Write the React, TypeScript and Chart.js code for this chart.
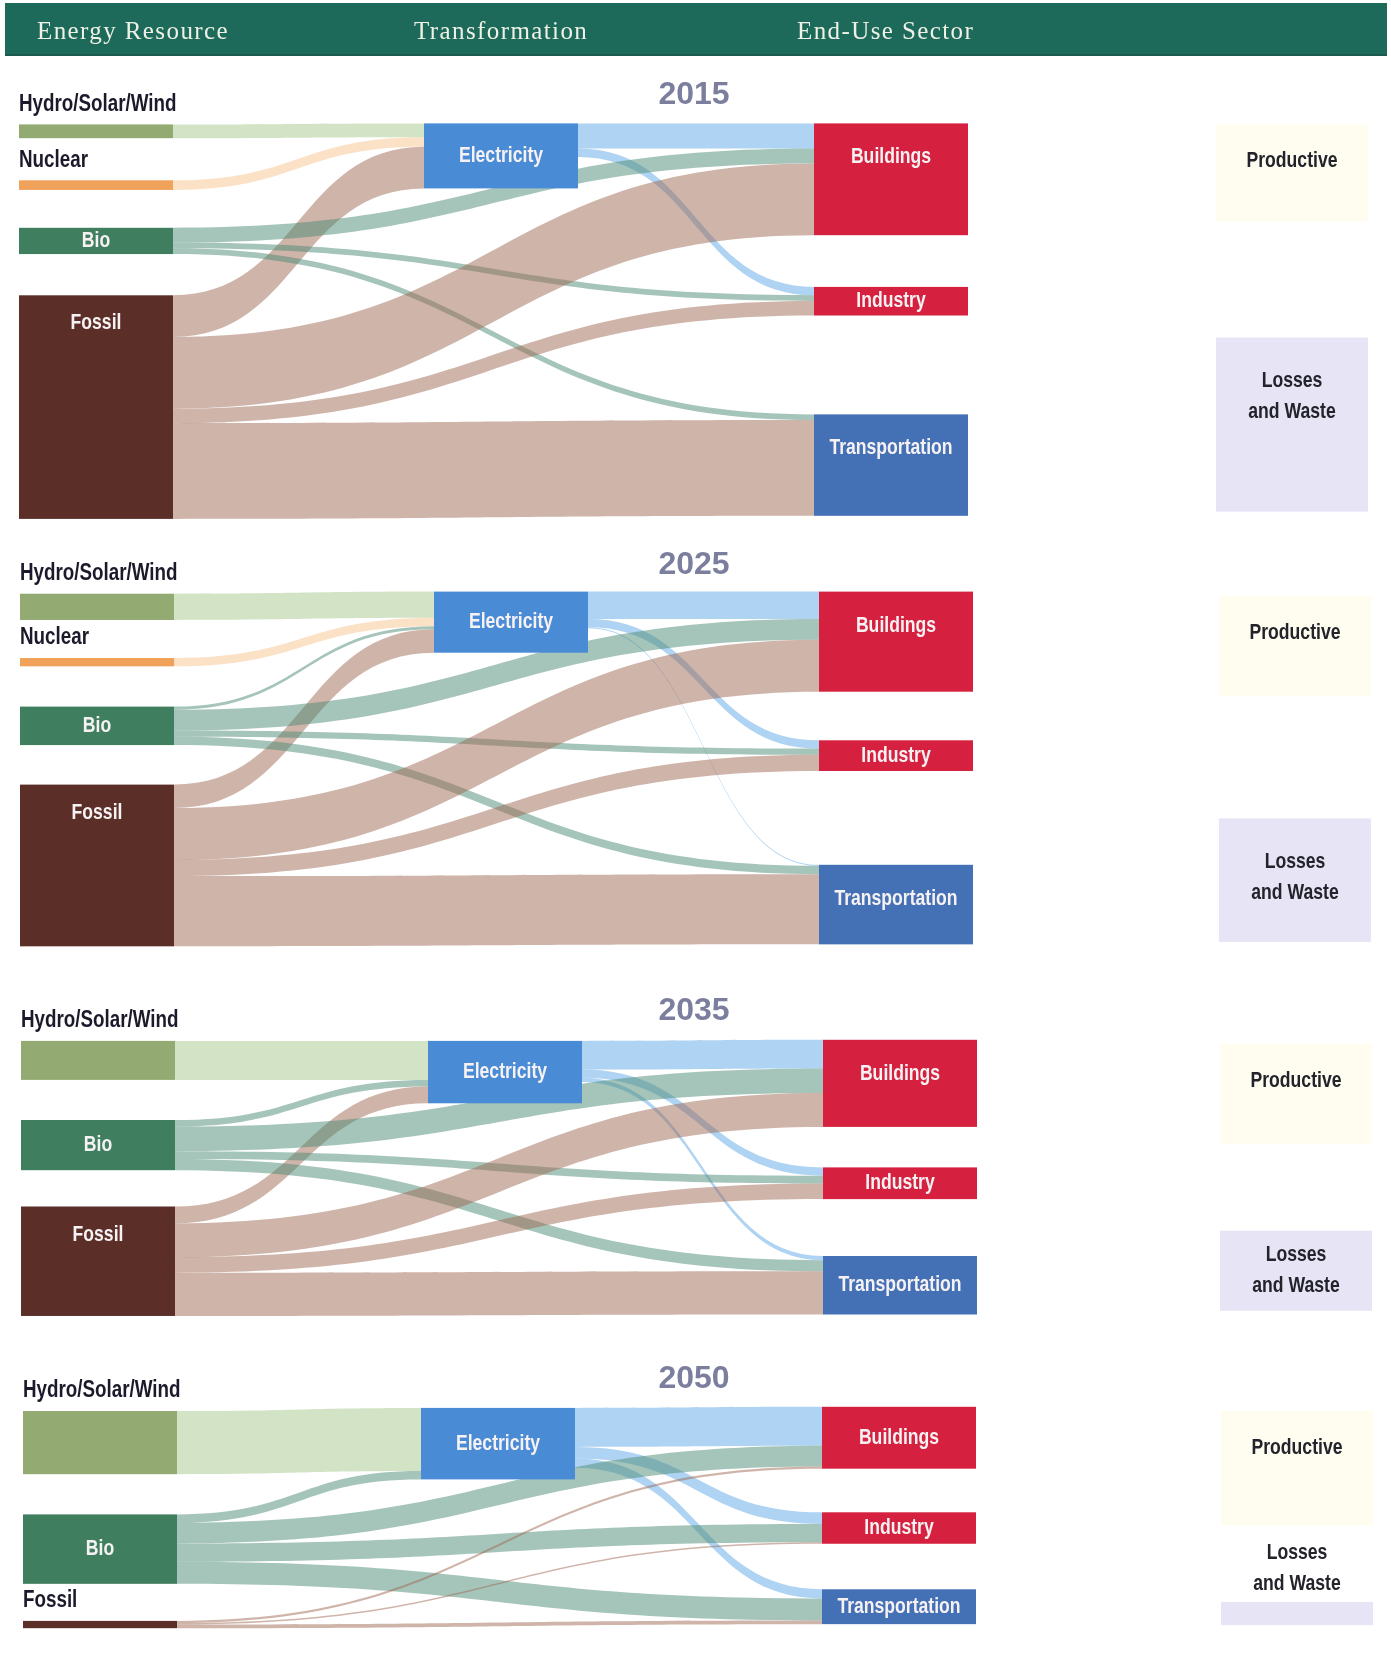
import React, { useEffect, useRef } from "react";
import { Chart, registerables } from "chart.js";

Chart.register(...registerables);

// ---------------- DATA (energy units) ----------------
const YEARS = ["2015", "2025", "2035", "2050"];
const HEADINGS = ["Energy Resource", "Transformation", "End-Use Sector"];
const RESOURCES = ["Hydro/Solar/Wind", "Nuclear", "Bio", "Fossil"];
const CONVERTERS = ["Electricity"];
const SECTORS = ["Buildings", "Industry", "Transportation"];
const OUTCOMES = ["Productive", "Losses and Waste"];

type Flow = [string, string, number];

const FLOWS_2015: Flow[] = [
  ["Hydro/Solar/Wind", "Electricity", 5.3],
  ["Nuclear", "Electricity", 3.7],
  ["Fossil", "Electricity", 16],
  ["Electricity", "Buildings", 9.7],
  ["Electricity", "Industry", 3.2],
  ["Bio", "Buildings", 5.7],
  ["Bio", "Industry", 2.2],
  ["Bio", "Transportation", 2.2],
  ["Fossil", "Buildings", 27.6],
  ["Fossil", "Industry", 5.6],
  ["Fossil", "Transportation", 36.8],
];

const FLOWS_2025: Flow[] = [
  ["Hydro/Solar/Wind", "Electricity", 10.1],
  ["Nuclear", "Electricity", 3.2],
  ["Bio", "Electricity", 1.2],
  ["Fossil", "Electricity", 9],
  ["Electricity", "Buildings", 10.5],
  ["Electricity", "Industry", 3.2],
  ["Electricity", "Transportation", 0.4],
  ["Bio", "Buildings", 8],
  ["Bio", "Industry", 2.4],
  ["Bio", "Transportation", 3.2],
  ["Fossil", "Buildings", 20],
  ["Fossil", "Industry", 6.2],
  ["Fossil", "Transportation", 27],
];

const FLOWS_2035: Flow[] = [
  ["Hydro/Solar/Wind", "Electricity", 15],
  ["Bio", "Electricity", 2.5],
  ["Fossil", "Electricity", 6.5],
  ["Electricity", "Buildings", 11],
  ["Electricity", "Industry", 3.2],
  ["Electricity", "Transportation", 1.6],
  ["Bio", "Buildings", 9.5],
  ["Bio", "Industry", 3],
  ["Bio", "Transportation", 4.3],
  ["Fossil", "Buildings", 13],
  ["Fossil", "Industry", 6],
  ["Fossil", "Transportation", 16.6],
];

const FLOWS_2050: Flow[] = [
  ["Hydro/Solar/Wind", "Electricity", 24.3],
  ["Bio", "Electricity", 3.2],
  ["Electricity", "Buildings", 15],
  ["Electricity", "Industry", 4.5],
  ["Electricity", "Transportation", 3.5],
  ["Bio", "Buildings", 8],
  ["Bio", "Industry", 7],
  ["Bio", "Transportation", 8.5],
  ["Fossil", "Buildings", 0.8],
  ["Fossil", "Industry", 0.6],
  ["Fossil", "Transportation", 1.4],
];

const PRODUCTIVE = [37.3, 38.5, 38.5, 44];
const LOSSES = [67, 47.5, 30.8, 8.9];

const FLOWS_BY_YEAR = [FLOWS_2015, FLOWS_2025, FLOWS_2035, FLOWS_2050];

// ---------------- LAYOUT & STYLE ----------------
const PAGE_W = 1391;
const PAGE_H = 1653;
const PX_PER_UNIT = 2.6;
const COL_W = [154, 154, 154, 152];

const PANEL_LAYOUT = [
  {
    yearY: 95,
    cols: [19, 424, 814, 1216],
    tops: {
      "Hydro/Solar/Wind": 124.4, Nuclear: 180.3, Bio: 227.8, Fossil: 295.3,
      Electricity: 123.4, Buildings: 123.4, Industry: 286.9, Transportation: 414.4,
      Productive: 124.4, "Losses and Waste": 337.5,
    } as Record<string, number>,
    fossilLabel: "top",
  },
  {
    yearY: 565,
    cols: [20, 434, 819, 1219],
    tops: {
      "Hydro/Solar/Wind": 593.7, Nuclear: 658, Bio: 706.6, Fossil: 784.6,
      Electricity: 591.6, Buildings: 591.6, Industry: 740.3, Transportation: 864.8,
      Productive: 595.8, "Losses and Waste": 818.4,
    } as Record<string, number>,
    fossilLabel: "top",
  },
  {
    yearY: 1011,
    cols: [21, 428, 823, 1220],
    tops: {
      "Hydro/Solar/Wind": 1040.9, Bio: 1120, Fossil: 1206.5,
      Electricity: 1040.9, Buildings: 1039.8, Industry: 1167.4, Transportation: 1256,
      Productive: 1044, "Losses and Waste": 1230.7,
    } as Record<string, number>,
    fossilLabel: "top",
  },
  {
    yearY: 1379.5,
    cols: [23, 421, 822, 1221],
    tops: {
      "Hydro/Solar/Wind": 1411, Bio: 1514.4, Fossil: 1620.9,
      Electricity: 1407.9, Buildings: 1406.8, Industry: 1512.3, Transportation: 1589.3,
      Productive: 1411, "Losses and Waste": 1602,
    } as Record<string, number>,
    fossilLabel: "above",
  },
];

const NODE_COLORS: Record<string, string> = {
  "Hydro/Solar/Wind": "#93ab72",
  Nuclear: "#f0a25a",
  Bio: "#3f7f5f",
  Fossil: "#5b2e28",
  Electricity: "#4a8bd6",
  Buildings: "#d5213f",
  Industry: "#d5213f",
  Transportation: "#4470b5",
  Productive: "#fefdf0",
  "Losses and Waste": "#e7e5f5",
};

const FLOW_COLORS: Record<string, string> = {
  "Hydro/Solar/Wind": "rgba(150,190,120,0.42)",
  Nuclear: "rgba(245,180,110,0.40)",
  Bio: "rgba(75,140,118,0.50)",
  Fossil: "rgba(160,105,85,0.50)",
  Electricity: "rgba(95,168,230,0.50)",
};

const LABEL_FAMILY = '"Liberation Sans", Arial, sans-serif';
const CONDENSE = 0.8;

function colOf(name: string): number {
  if (RESOURCES.includes(name)) return 0;
  if (CONVERTERS.includes(name)) return 1;
  if (SECTORS.includes(name)) return 2;
  return 3;
}

function condensedText(ctx: CanvasRenderingContext2D, text: string, x: number, y: number, align: CanvasTextAlign) {
  ctx.save();
  ctx.translate(x, y);
  ctx.scale(CONDENSE, 1);
  ctx.textAlign = align;
  ctx.fillText(text, 0, 0);
  ctx.restore();
}

type NodeInfo = {
  name: string;
  col: number;
  value: number;
  inSum: number;
  outSum: number;
  x0: number;
  x1: number;
  u0: number;
  y0: number;
  y1: number;
};

const sankeyPlugin = {
  id: "sankeyPanels",
  afterDraw(chart: any) {
    const ctx: CanvasRenderingContext2D = chart.ctx;
    const xs = chart.scales.x;
    const ys = chart.scales.y;

    YEARS.forEach((year, pi) => {
      const flows = FLOWS_BY_YEAR[pi];
      const lay = PANEL_LAYOUT[pi];
      const nodes: Record<string, NodeInfo> = {};
      const ensure = (name: string) => {
        if (!nodes[name]) {
          nodes[name] = { name, col: colOf(name), value: 0, inSum: 0, outSum: 0, x0: 0, x1: 0, u0: 0, y0: 0, y1: 0 };
        }
        return nodes[name];
      };
      flows.forEach(([s, t, v]) => {
        ensure(s).outSum += v;
        ensure(t).inSum += v;
      });
      ensure(OUTCOMES[0]).inSum = PRODUCTIVE[pi];
      ensure(OUTCOMES[1]).inSum = LOSSES[pi];

      Object.values(nodes).forEach((n) => {
        n.value = Math.max(n.inSum, n.outSum);
        const cx = lay.cols[n.col];
        n.x0 = xs.getPixelForValue(cx);
        n.x1 = xs.getPixelForValue(cx + COL_W[n.col]);
        n.u0 = ys.getValueForPixel(lay.tops[n.name]);
        n.y0 = ys.getPixelForValue(n.u0);
        n.y1 = ys.getPixelForValue(n.u0 + n.value);
      });

      const srcPos = new Map<Flow, number>();
      const tgtPos = new Map<Flow, number>();
      Object.values(nodes).forEach((n) => {
        const outs = flows.filter((f) => f[0] === n.name).sort((a, b) => {
          const A = nodes[a[1]], B = nodes[b[1]];
          return A.col - B.col || A.y0 - B.y0;
        });
        let o = 0;
        outs.forEach((f) => { srcPos.set(f, o); o += f[2]; });
        const ins = flows.filter((f) => f[1] === n.name).sort((a, b) => {
          const A = nodes[a[0]], B = nodes[b[0]];
          return B.col - A.col || A.y0 - B.y0;
        });
        let i = 0;
        ins.forEach((f) => { tgtPos.set(f, i); i += f[2]; });
      });

      // flows
      ctx.save();
      flows.forEach((f) => {
        const s = nodes[f[0]], t = nodes[f[1]];
        const so = srcPos.get(f) || 0, to = tgtPos.get(f) || 0;
        const sy0 = ys.getPixelForValue(s.u0 + so);
        const sy1 = ys.getPixelForValue(s.u0 + so + f[2]);
        const ty0 = ys.getPixelForValue(t.u0 + to);
        const ty1 = ys.getPixelForValue(t.u0 + to + f[2]);
        const xa = s.x1, xb = t.x0;
        const xm = (xa + xb) / 2;
        ctx.beginPath();
        ctx.moveTo(xa, sy0);
        ctx.bezierCurveTo(xm, sy0, xm, ty0, xb, ty0);
        ctx.lineTo(xb, ty1);
        ctx.bezierCurveTo(xm, ty1, xm, sy1, xa, sy1);
        ctx.closePath();
        ctx.fillStyle = FLOW_COLORS[f[0]];
        ctx.fill();
      });
      ctx.restore();

      // nodes
      Object.values(nodes).forEach((n) => {
        ctx.fillStyle = NODE_COLORS[n.name];
        ctx.fillRect(n.x0, n.y0, n.x1 - n.x0, n.y1 - n.y0);
      });

      // labels
      ctx.save();
      ctx.textBaseline = "middle";
      Object.values(nodes).forEach((n) => {
        const h = n.y1 - n.y0;
        const cx = (n.x0 + n.x1) / 2;
        let mode = "center";
        let off = 0;
        if (n.name === "Hydro/Solar/Wind" || n.name === "Nuclear") mode = "above";
        else if (n.name === "Fossil") { mode = lay.fossilLabel; off = 28; }
        else if (n.name === "Buildings" || n.name === "Transportation") { mode = "top"; off = 34; }
        else if (n.name === "Productive") { mode = "top"; off = 37; }
        else if (n.name === "Losses and Waste") mode = h > 40 ? "two" : "twoAbove";

        if (mode === "above") {
          ctx.font = `bold 23.5px ${LABEL_FAMILY}`;
          ctx.fillStyle = "#1c1a2a";
          condensedText(ctx, n.name, n.x0, n.y0 - 20, "left");
          return;
        }
        const dark = n.col === 3;
        ctx.font = `bold 22px ${LABEL_FAMILY}`;
        ctx.fillStyle = dark ? "#23232b" : "#f6f1f2";
        if (mode === "center") {
          condensedText(ctx, n.name, cx, n.y0 + h / 2, "center");
        } else if (mode === "top") {
          condensedText(ctx, n.name, cx, n.y0 + Math.min(h / 2, off), "center");
        } else if (mode === "two" || mode === "twoAbove") {
          const mid = mode === "two" ? n.y0 + Math.min(h / 2, 59) : n.y0 - 34;
          condensedText(ctx, "Losses", cx, mid - 15.5, "center");
          condensedText(ctx, "and Waste", cx, mid + 15.5, "center");
        }
      });

      // year title
      ctx.font = 'bold 32px "Liberation Sans", Arial, sans-serif';
      ctx.fillStyle = "#7b7e9d";
      ctx.textAlign = "center";
      ctx.fillText(year, xs.getPixelForValue(694), lay.yearY);
      ctx.restore();
    });
  },
};

export default function App() {
  const canvasRef = useRef<HTMLCanvasElement | null>(null);

  useEffect(() => {
    if (!canvasRef.current) return;
    const chart = new Chart(canvasRef.current, {
      type: "scatter",
      data: { datasets: [] },
      options: {
        animation: false,
        responsive: false,
        devicePixelRatio: 1,
        layout: { padding: 0 },
        plugins: { legend: { display: false }, tooltip: { enabled: false } },
        scales: {
          x: { type: "linear", min: 0, max: PAGE_W, display: false },
          y: { type: "linear", min: 0, max: PAGE_H / PX_PER_UNIT, reverse: true, display: false },
        },
      },
      plugins: [sankeyPlugin],
    } as any);
    return () => chart.destroy();
  }, []);

  const headLeft = [32, 409, 792];

  return (
    <div style={{ position: "absolute", left: 0, top: 0, width: PAGE_W, height: PAGE_H, background: "#ffffff" }}>
      <canvas ref={canvasRef} width={PAGE_W} height={PAGE_H} style={{ position: "absolute", left: 0, top: 0, display: "block" }} />
      <div
        style={{
          position: "absolute",
          left: 5,
          top: 3,
          width: 1382,
          height: 53,
          background: "#1e6a5a",
          boxShadow: "inset 0 -2px 0 rgba(0,0,0,0.15)",
        }}
      >
        {HEADINGS.map((h, i) => (
          <span
            key={h}
            style={{
              position: "absolute",
              left: headLeft[i],
              top: 0,
              lineHeight: "55px",
              fontFamily: '"Liberation Serif", "DejaVu Serif", serif',
              fontSize: 25,
              letterSpacing: "1.4px",
              color: "#eef1e6",
              whiteSpace: "nowrap",
            }}
          >
            {h}
          </span>
        ))}
      </div>
    </div>
  );
}
